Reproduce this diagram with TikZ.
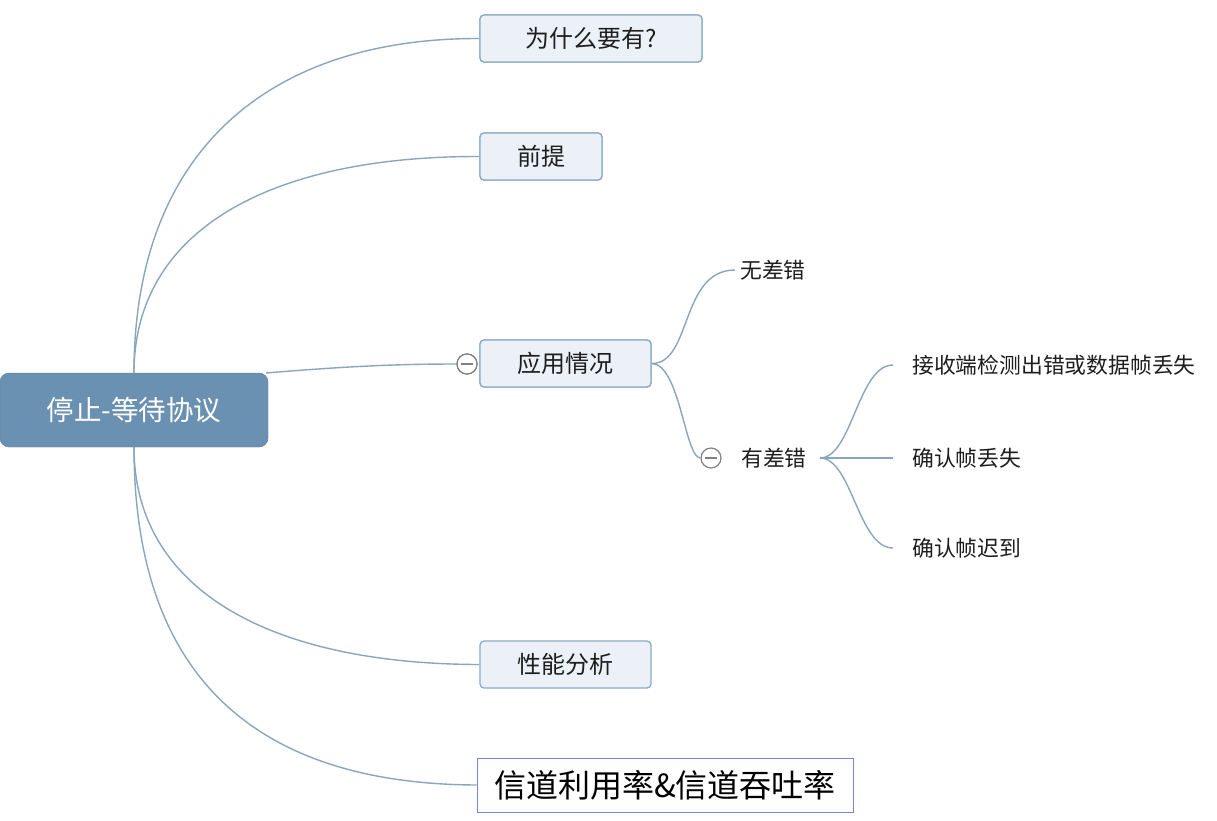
\documentclass[tikz,border=0pt]{standalone}
\usepackage{fontspec}
\setmainfont{Noto Sans CJK SC}
\definecolor{rootfill}{HTML}{6A91B2}
\definecolor{boxfill}{HTML}{EBF1F7}
\definecolor{boxline}{HTML}{8EAAC3}
\definecolor{linkc}{HTML}{8AA6BE}
\definecolor{txt}{HTML}{1E1E1E}
\begin{document}
\begin{tikzpicture}[x=1pt,y=-1pt,
  rootbox/.style={fill=rootfill,draw=rootfill!85!black,rounded corners=9pt,minimum width=268pt,minimum height=74pt,text=white,font=\fontsize{27.5}{30}\selectfont,inner sep=0pt},
  topic/.style={fill=boxfill,draw=boxline,line width=1.3pt,rounded corners=4pt,minimum height=47pt,text=txt,font=\fontsize{24}{28}\selectfont,inner sep=0pt},
  plainbox/.style={fill=white,draw=boxline!80!blue,line width=1pt,minimum height=54pt,minimum width=376pt,text=black,font=\fontsize{32}{36}\selectfont,inner sep=0pt},
  subtxt/.style={anchor=west,text=txt,font=\fontsize{21.8}{26}\selectfont,inner sep=0pt},
  link/.style={draw=linkc,line width=1.4pt},
  fold/.style={circle,draw=gray,line width=1.2pt,fill=white,minimum size=20pt,inner sep=0pt,path picture={\draw[gray,line width=1.2pt] ([xshift=-6pt]path picture bounding box.center) -- ([xshift=6pt]path picture bounding box.center);}}
]
\useasboundingbox[fill=white] (0,0) rectangle (1217,820);

\coordinate (rtop) at (134,373);
\coordinate (rbot) at (134,447);
\coordinate (rright) at (266,373);

\node[topic,minimum width=222pt] (b1) at (591,38.5) {为什么要有?};
\node[topic,minimum width=122pt] (b2) at (541,156.5) {前提};
\node[topic,minimum width=171pt] (b3) at (565.5,363.5) {应用情况};
\node[topic,minimum width=171pt] (b4) at (565.5,664.5) {性能分析};
\node[plainbox] (b5) at (665,785) {信道利用率\&信道吞吐率};

\node[fold] (c1) at (467,364) {};
\node[fold] (c2) at (711,458) {};

\node[subtxt] (t1) at (740,270) {无差错};
\node[subtxt] (t2) at (741,458) {有差错};
\node[subtxt] (s1) at (912,365) {接收端检测出错或数据帧丢失};
\node[subtxt] (s2) at (912,458) {确认帧丢失};
\node[subtxt] (s3) at (912,548) {确认帧迟到};

\coordinate (e1) at (735,270);
\coordinate (f0) at (820,458);
\coordinate (f1) at (893,365);
\coordinate (f2) at (893,458);
\coordinate (f3) at (893,548);

\draw[link] (rtop) .. controls (134,150) and (270,38) .. (b1.west);
\draw[link] (rtop) .. controls (134,230) and (270,156) .. (b2.west);
\draw[link] (rright) .. controls (350,366) and (400,364) .. (c1.west);
\draw[link] (rbot) .. controls (134,590) and (270,664) .. (b4.west);
\draw[link] (rbot) .. controls (134,690) and (270,784) .. (b5.west);
\draw[link] (b3.east) .. controls (692,364) and (680,270) .. (e1);
\draw[link] (b3.east) .. controls (680,364) and (685,458) .. (c2.west);
\draw[link] (f0) .. controls (852,458) and (858,365) .. (f1);
\draw[link] (f0) -- (f2);
\draw[link] (f0) .. controls (852,458) and (858,548) .. (f3);

\node[rootbox] (root) at (134,410) {停止-等待协议};
\node[topic,minimum width=222pt] at (b1) {为什么要有?};
\node[topic,minimum width=122pt] at (b2) {前提};
\node[topic,minimum width=171pt] at (b3) {应用情况};
\node[fold] at (c1) {};
\end{tikzpicture}
\end{document}
